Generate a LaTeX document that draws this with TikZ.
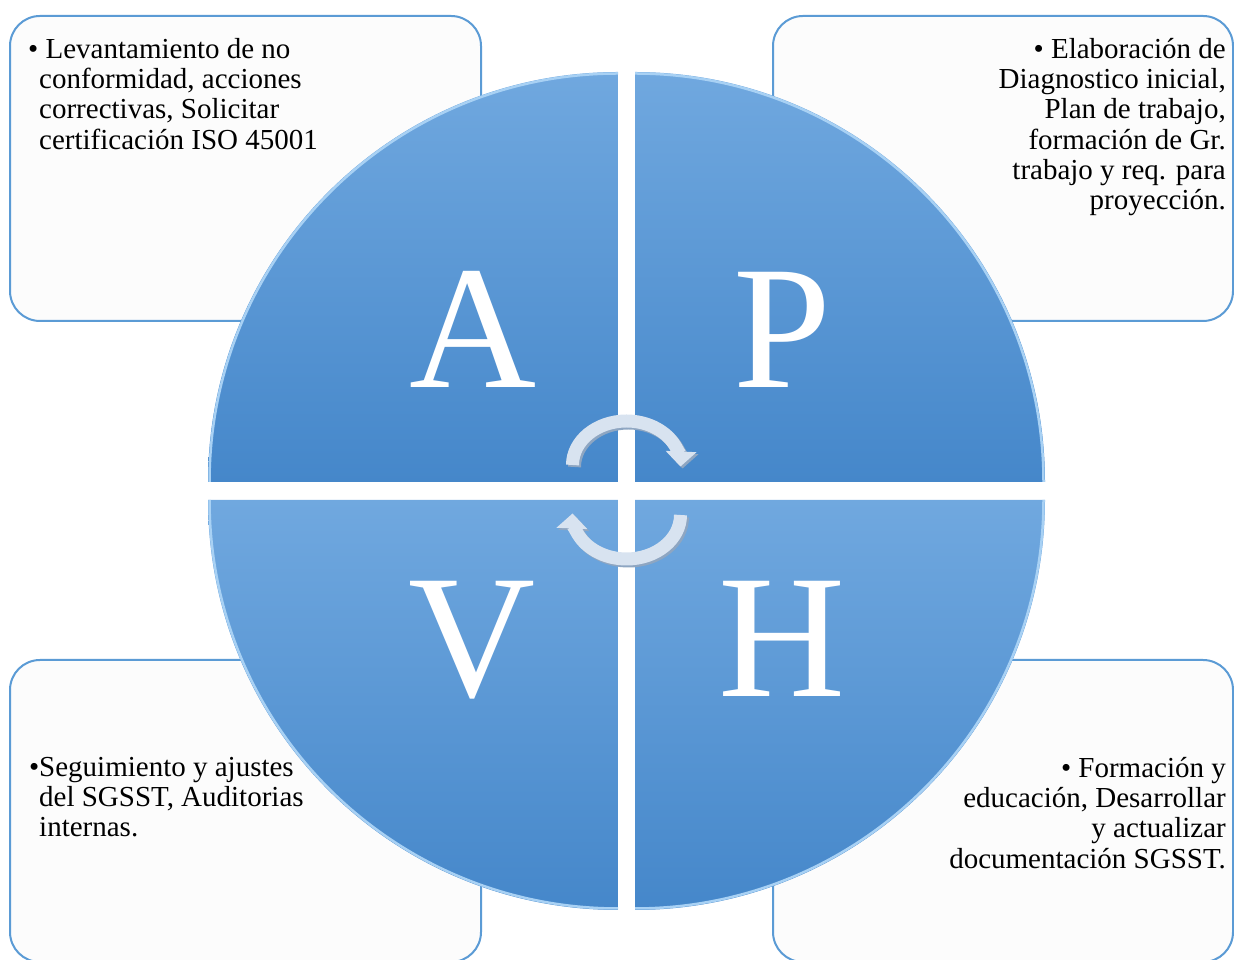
\documentclass[tikz,border=0pt]{standalone}
\usepackage{fontspec}
\setmainfont{Liberation Serif}
\usetikzlibrary{arrows.meta}
\definecolor{rimblue}{HTML}{5B9BD5}
\definecolor{quadtop}{HTML}{70A8DF}
\definecolor{quadbot}{HTML}{4587CA}
\definecolor{boxfill}{HTML}{FCFCFC}
\definecolor{rimlight}{HTML}{A8D1F4}
\definecolor{arrfill}{HTML}{D8E3F0}
\definecolor{arrshade}{HTML}{8EA6C2}

\begin{document}
\begin{tikzpicture}[x=1pt, y=1pt,
        box/.style={draw=rimblue, line width=2pt, fill=boxfill, rounded corners=30pt},
        quad/.style={top color=quadtop, bottom color=quadbot},
        letter/.style={text=white, font=\fontsize{176}{176}\selectfont, inner sep=0pt, anchor=base},
        info/.style={font=\fontsize{29}{30.3}\selectfont, inner sep=0pt},
        cyc/.style={line width=13pt, -{Triangle[width=30pt, length=15pt]}}]
        \useasboundingbox (0,0) rectangle (1234,960);
        \def\rad{410}
        \def\cx{626.5}
        \def\cy{469}
        \def\gx{8.5}
        \def\gy{9}
        \coordinate (hub) at (\cx,\cy);

        % boxes behind the circle
        \draw[box] (10,639) rectangle (481,944);
        \draw[box] (773,639) rectangle (1233,944);
        \draw[box] (10,-2) rectangle (481,300);
        \draw[box] (773,-2) rectangle (1233,300);

        % the four quarters
        \shade[quad] (\cx-\gx,\cy+\gy) -- ++(-\rad,0) arc (180:90:\rad) -- cycle;
        \shade[quad] (\cx+\gx,\cy+\gy) -- ++(\rad,0) arc (0:90:\rad) -- cycle;
        \shade[quad] (\cx-\gx,\cy-\gy) -- ++(-\rad,0) arc (180:270:\rad) -- cycle;
        \shade[quad] (\cx+\gx,\cy-\gy) -- ++(\rad,0) arc (0:-90:\rad) -- cycle;
        \draw[rimlight, line width=2.5pt] (\cx-\gx-\rad+1.5,\cy+\gy) arc (180:90:\rad-1.5);
        \draw[rimlight, line width=2.5pt] (\cx+\gx+\rad-1.5,\cy+\gy) arc (0:90:\rad-1.5);
        \draw[rimlight, line width=2.5pt] (\cx-\gx-\rad+1.5,\cy-\gy) arc (180:270:\rad-1.5);
        \draw[rimlight, line width=2.5pt] (\cx+\gx+\rad-1.5,\cy-\gy) arc (0:-90:\rad-1.5);

        \node[letter] (A) at (473,572) {A};
        \node[letter] (P) at (782,572) {P};
        \node[letter] (V) at (472,263) {V};
        \node[letter] (H) at (782,263) {H};

        % cycle arrows
        \draw[cyc, arrshade] ([shift={(-52,24)}]hub) arc (180:-2:54 and 44);
        \draw[cyc, arrfill] ([shift={(-54,26)}]hub) arc (180:-2:54 and 44);
        \draw[cyc, arrshade] ([shift={(56,-26)}]hub) arc (0:-182:54 and 44);
        \draw[cyc, arrfill] ([shift={(54,-24)}]hub) arc (0:-182:54 and 44);

        \node[info, anchor=north west, align=left] (txtA) at (39,922)
            {\hspace*{-11pt}\textbullet\ Levantamiento de no\\conformidad, acciones\\correctivas, Solicitar\\certificación ISO 45001};
        \node[info, anchor=north east, align=right] (txtP) at (1226,922)
            {\textbullet\ Elaboración de\\Diagnostico inicial,\\Plan de trabajo,\\formación de Gr.\\trabajo y req. para\\proyección.};
        \node[info, anchor=north west, align=left] (txtV) at (39,203)
            {\llap{\textbullet}Seguimiento y ajustes\\del SGSST, Auditorias\\internas.};
        \node[info, anchor=north east, align=right] (txtH) at (1226,203)
            {\textbullet\ Formación y\\educación, Desarrollar\\y actualizar\\documentación SGSST.};
    \end{tikzpicture}
\end{document}
